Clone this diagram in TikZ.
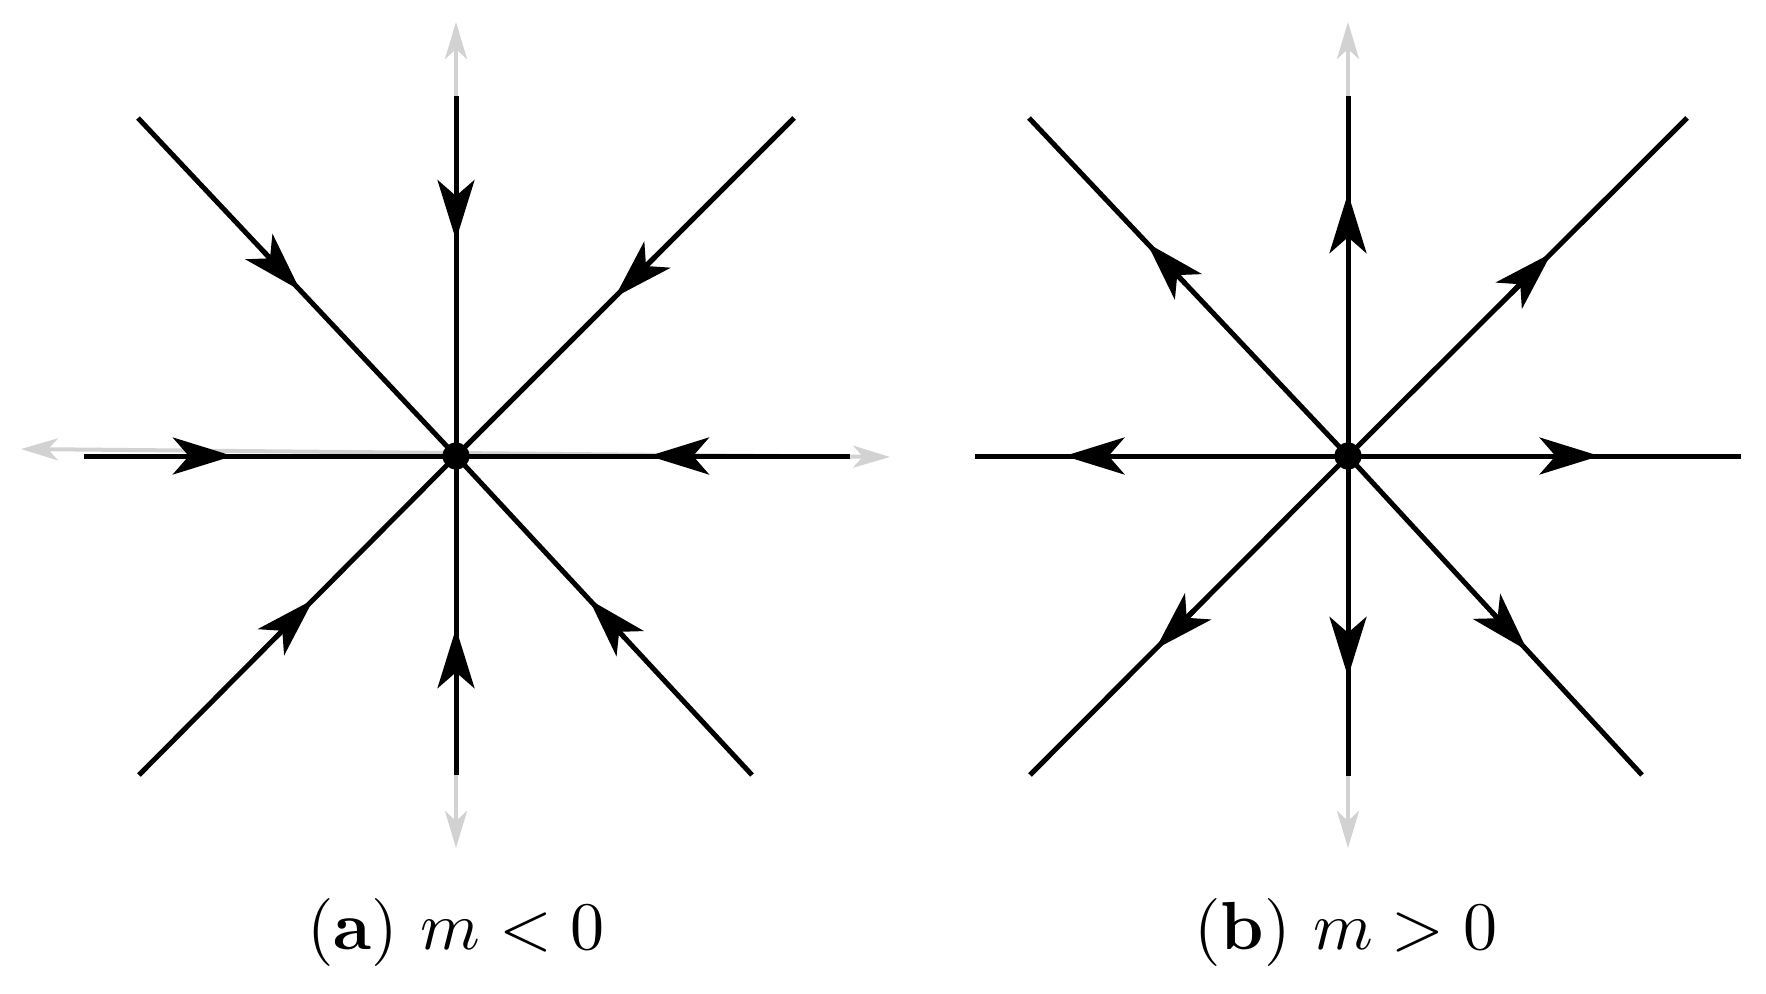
\documentclass[tikz,border=0pt]{standalone}
\usepackage{graphicx}
\usetikzlibrary{arrows.meta,calc}
\definecolor{axgray}{RGB}{210,210,210}
\tikzset{
  axisline/.style={draw=axgray, line width=4pt,
    {Stealth[length=37pt,width=22pt,inset=10pt]}-{Stealth[length=37pt,width=22pt,inset=10pt]}},
  rayline/.style={draw=black, line width=5pt},
  arrowmark/.style={draw=black, line width=5pt, -{Stealth[length=60pt,width=37pt,inset=16pt]}},
  centerdot/.style={circle, fill=black, inner sep=0pt, minimum size=27pt},
  caption/.style={anchor=base, inner sep=0pt}
}
% arrow with tip at fraction #3 from centre #1 towards end #2
\newcommand{\myinarrow}[3]{\draw[arrowmark] ($(#1)!#3+0.12!(#2)$) -- ($(#1)!#3!(#2)$);}
\newcommand{\myoutarrow}[3]{\draw[arrowmark] ($(#1)!#3-0.12!(#2)$) -- ($(#1)!#3!(#2)$);}
\newcommand{\mycaptext}[1]{\scalebox{6.8}{#1}}
\begin{document}
\begin{tikzpicture}[x=1pt,y=-1pt]
\useasboundingbox (0,0) rectangle (1766,993);
% ---------- panel (a) ----------
\coordinate (Oa) at (456,456);
\coordinate (Ta) at (456,96);   \coordinate (Ba) at (456,775);
\coordinate (La) at (84,456);   \coordinate (Ra) at (850,456);
\coordinate (ULa) at (138,118); \coordinate (URa) at (794,118);
\coordinate (LLa) at (139,775); \coordinate (LRa) at (752,775);
\coordinate (GTa) at (456,22);  \coordinate (GBa) at (456,848);
\coordinate (GLa) at (21,449);  \coordinate (GRa) at (890,457);
\draw[axisline] (GBa) -- (GTa);
\draw[axisline] (GLa) -- (GRa);
\foreach \e in {Ta,Ba,La,Ra,ULa,URa,LLa,LRa} \draw[rayline] (\e) -- (Oa);
\myinarrow{Oa}{Ta}{0.60}
\myinarrow{Oa}{Ba}{0.54}
\myinarrow{Oa}{La}{0.60}
\myinarrow{Oa}{Ra}{0.49}
\myinarrow{Oa}{ULa}{0.49}
\myinarrow{Oa}{URa}{0.47}
\myinarrow{Oa}{LLa}{0.45}
\myinarrow{Oa}{LRa}{0.45}
\node[centerdot] (dota) at (Oa) {};
\node[caption] (capa) at (456,949) {\mycaptext{(\textbf{a}) $m<0$}};
% ---------- panel (b) ----------
\coordinate (Ob) at (1348,456);
\coordinate (Tb) at (1348,96);   \coordinate (Bb) at (1348,776);
\coordinate (Lb) at (975,456);   \coordinate (Rb) at (1741,456);
\coordinate (ULb) at (1029,118); \coordinate (URb) at (1687,118);
\coordinate (LLb) at (1030,775); \coordinate (LRb) at (1642,775);
\coordinate (GTb) at (1348,22);  \coordinate (GBb) at (1348,848);
\draw[axisline] (GBb) -- (GTb);
\foreach \e in {Tb,Bb,Lb,Rb,ULb,URb,LLb,LRb} \draw[rayline] (\e) -- (Ob);
\myoutarrow{Ob}{Tb}{0.73}
\myoutarrow{Ob}{Bb}{0.69}
\myoutarrow{Ob}{Lb}{0.76}
\myoutarrow{Ob}{Rb}{0.64}
\myoutarrow{Ob}{ULb}{0.63}
\myoutarrow{Ob}{URb}{0.60}
\myoutarrow{Ob}{LLb}{0.605}
\myoutarrow{Ob}{LRb}{0.61}
\node[centerdot] (dotb) at (Ob) {};
\node[caption] (capb) at (1346,949) {\mycaptext{(\textbf{b}) $m>0$}};
\end{tikzpicture}
\end{document}
